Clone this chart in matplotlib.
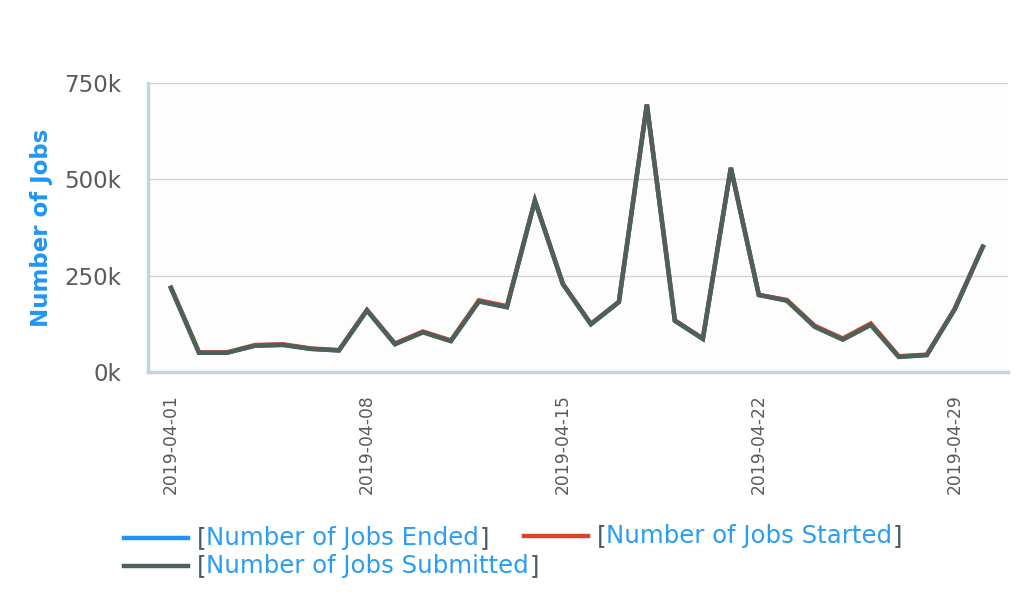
import pandas as pd
import matplotlib
matplotlib.use('Agg')
import matplotlib.pyplot as plt
import matplotlib.dates as mdates
from matplotlib.lines import Line2D
from matplotlib.ticker import FuncFormatter

# daily job counts, April 2019 (thousands)
days = pd.date_range('2019-04-01', '2019-04-30', freq='D')
jobs_ended = [218, 50, 50, 69, 71, 60, 56, 160, 73, 104, 81, 184, 169, 444, 228,
              124, 181, 693, 133, 86, 529, 200, 186, 118, 85, 123, 40, 44, 164, 325]
jobs_started = [219, 51, 51, 70, 72, 61, 57, 161, 74, 105, 82, 186, 171, 445, 229,
                125, 182, 694, 134, 87, 530, 200, 187, 120, 87, 126, 41, 45, 164, 325]
jobs_submitted = [218, 50, 50, 68, 70, 60, 56, 160, 72, 103, 80, 183, 168, 445, 228,
                  124, 182, 694, 133, 86, 530, 200, 185, 117, 84, 122, 39, 44, 163, 325]
y_ticks = [0, 250, 500, 750]
x_ticks = ['2019-04-01', '2019-04-08', '2019-04-15', '2019-04-22', '2019-04-29']

series = [('Number of Jobs Ended', jobs_ended, '#1e90ff'),
          ('Number of Jobs Started', jobs_started, '#d8432f'),
          ('Number of Jobs Submitted', jobs_submitted, '#4c6157')]

fig = plt.figure(figsize=(10.28, 5.92), dpi=100, facecolor='white')
ax = fig.add_axes([0.144, 0.3716, 0.8365, 0.4882])
ax.set_facecolor('#fdfdfd')

for name, vals, col in series:
    ax.plot(days, [v * 1000 for v in vals], color=col, lw=3.2, solid_joinstyle='miter')

ax.set_ylim(0, 750000)
ax.set_xlim(days[0] - pd.Timedelta(hours=19.7), days[0] + pd.Timedelta(days=29.9))
ax.set_yticks([t * 1000 for t in y_ticks])
ax.yaxis.set_major_formatter(FuncFormatter(lambda v, p: '%dk' % (v / 1000)))
ax.set_xticks(pd.to_datetime(x_ticks))
ax.xaxis.set_major_formatter(mdates.DateFormatter('%Y-%m-%d'))
ax.grid(axis='y', color='#d4d4d4', lw=1)
ax.set_axisbelow(True)

for s in ['top', 'right']:
    ax.spines[s].set_visible(False)
for s in ['left', 'bottom']:
    ax.spines[s].set_color('#c2d3e6')
    ax.spines[s].set_linewidth(2.5)

ax.tick_params(axis='y', length=0, pad=19, labelsize=16.5, labelcolor='#5a5a5a')
ax.tick_params(axis='x', length=0, pad=16, labelsize=12.3, labelcolor='#5a5a5a',
               labelrotation=90)
ax.set_ylabel('Number of Jobs', fontsize=16.5, fontweight='bold', color='#2196f3',
              labelpad=8)

# legend drawn by hand: coloured handle, dark brackets, blue label
def legend_entry(x0, y, name, col):
    fy = 1 - y / 592
    fig.add_artist(Line2D([x0 / 1028, (x0 + 64) / 1028], [fy, fy], color=col, lw=3.2,
                          transform=fig.transFigure))
    t = fig.text((x0 + 73) / 1028, fy, '[', fontsize=17.6, color='#4a5a6a', va='center')
    t2 = ax.annotate(name, xy=(1, 0), xycoords=t, va='bottom', fontsize=17.6,
                     color='#2a9df4', annotation_clip=False)
    ax.annotate(']', xy=(1, 0), xycoords=t2, va='bottom', fontsize=17.6,
                color='#4a5a6a', annotation_clip=False)

legend_entry(124, 538, series[0][0], series[0][2])
legend_entry(524, 536, series[1][0], series[1][2])
legend_entry(124, 566, series[2][0], series[2][2])

fig.savefig('out.png', dpi=100, facecolor='white')
